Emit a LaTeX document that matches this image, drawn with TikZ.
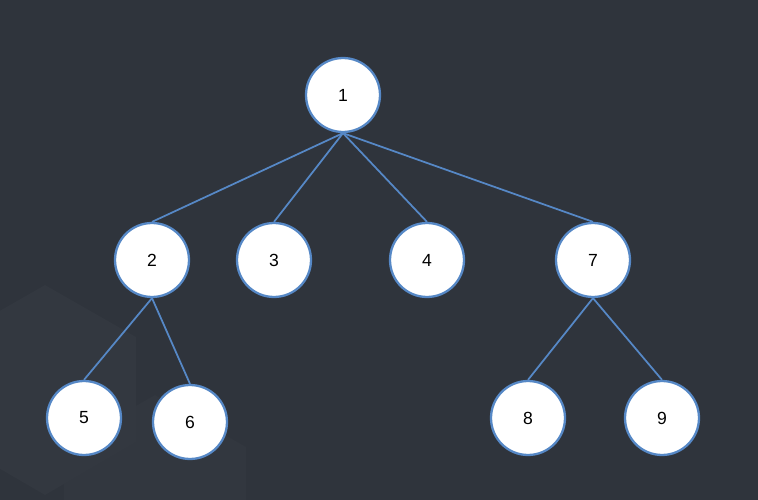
\documentclass[tikz,border=0pt]{standalone}
\usepackage{fontspec}
\setmainfont{Liberation Sans}
\definecolor{mybg}{RGB}{47,52,60}
\definecolor{myhex}{RGB}{51,56,64}
\definecolor{myhextwo}{RGB}{50,55,63}
\definecolor{myblue}{RGB}{86,136,198}

\begin{document}
\begin{tikzpicture}[x=0.02cm, y=-0.02cm,
    vertex/.style={circle, draw=myblue, fill=white, line width=1.3pt, minimum size=1.48cm, inner sep=0pt, font=\fontsize{10}{12}\selectfont},
    branch/.style={myblue, line width=1pt}]

% Background.
\fill[mybg] (0,0) rectangle (758,500);
\useasboundingbox (0,0) rectangle (758,500);
\begin{scope}
    \clip (0,0) rectangle (758,500);
    % Faint hexagons.
    \fill[myhextwo] (155,395) -- (246,447) -- (246,552) -- (155,604) -- (64,552) -- (64,447) -- cycle;
    \fill[myhex] (45,285) -- (136,337) -- (136,442) -- (45,495) -- (-46,442) -- (-46,337) -- cycle;
\end{scope}

% Defining nodes.
\draw (343,95) node[vertex] (N1) {1};
\draw (152,260) node[vertex] (N2) {2};
\draw (274,260) node[vertex] (N3) {3};
\draw (427,260) node[vertex] (N4) {4};
\draw (593,260) node[vertex] (N7) {7};
\draw (84,418) node[vertex] (N5) {5};
\draw (190,422) node[vertex] (N6) {6};
\draw (528,418) node[vertex] (N8) {8};
\draw (662,418) node[vertex] (N9) {9};

% Branches.
\draw[branch] (N1.south) -- (N2.north);
\draw[branch] (N1.south) -- (N3.north);
\draw[branch] (N1.south) -- (N4.north);
\draw[branch] (N1.south) -- (N7.north);
\draw[branch] (N2.south) -- (N5.north);
\draw[branch] (N2.south) -- (N6.north);
\draw[branch] (N7.south) -- (N8.north);
\draw[branch] (N7.south) -- (N9.north);

\end{tikzpicture}
\end{document}
